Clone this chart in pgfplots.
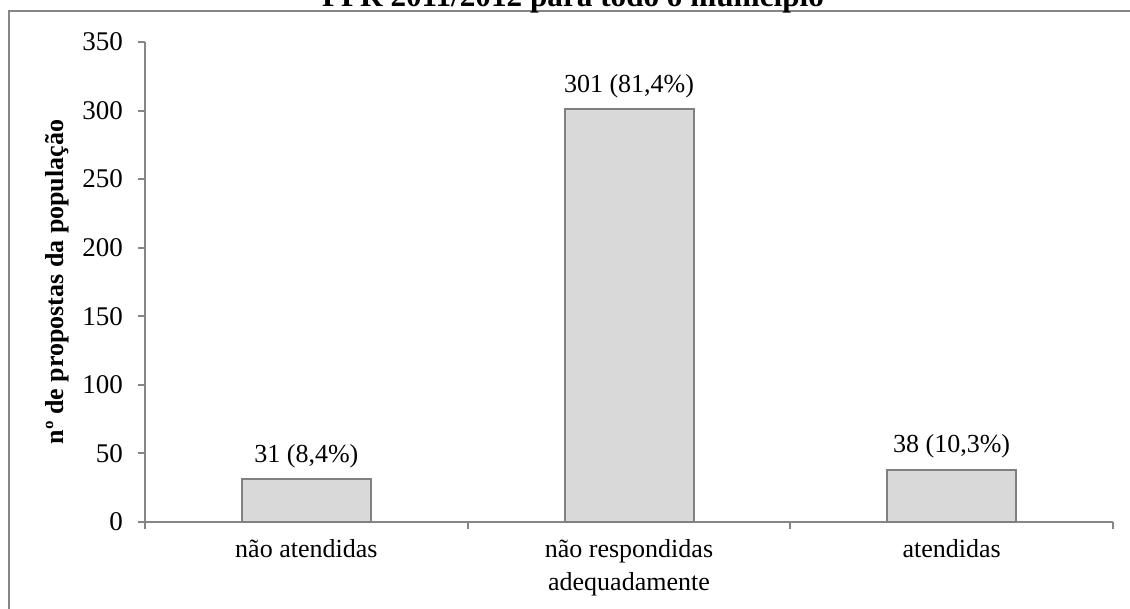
\documentclass[border=0pt]{standalone}
\usepackage{pgfplots}
\pgfplotsset{compat=1.18}
\usepackage{fontspec}
\setmainfont{Liberation Serif}
\definecolor{barfill}{HTML}{D9D9D9}
\definecolor{barline}{HTML}{808080}
\definecolor{axisgray}{HTML}{868686}
\begin{document}
\begin{tikzpicture}[x=0.5pt,y=-0.5pt]
\useasboundingbox (0,0) rectangle (1130,609);
\clip (0,0) rectangle (1130,609);
\draw[axisgray, line width=1pt] (9,1200) -- (9,11.5) -- (1300,11.5);
\node[font=\fontsize{15.6}{18}\selectfont\bfseries, anchor=base, inner sep=0pt] at (573,7) {PPR 2011/2012 para todo o município};
\begin{axis}[
  at={(72.5pt,-261pt)}, anchor=south west,
  width=484pt, height=240pt, scale only axis,
  xmin=-0.5, xmax=2.5, ymin=0, ymax=350,
  axis x line*=bottom, axis y line*=left,
  axis line style={axisgray, line width=1pt},
  tick style={axisgray, line width=1pt},
  tick align=outside, major tick length=3.5pt,
  ytick={0,50,...,350},
  xtick={-0.5,0.5,1.5,2.5}, xticklabels={},
  extra x ticks={0,1,2},
  extra x tick labels={não atendidas, {não respondidas\\adequadamente}, atendidas},
  extra x tick style={major tick length=0pt, tick style={draw=none}},
  x tick label style={align=center, font=\fontsize{13}{16.5}\selectfont, yshift=-5pt},
  y tick label style={font=\fontsize{13.5}{15}\selectfont, xshift=-4pt},
  /pgf/number format/assume math mode=true,
  ylabel={nº de propostas da população},
  ylabel style={font=\fontsize{13}{15}\selectfont\bfseries},
  ybar, bar width=64.5pt,
  nodes near coords,
  point meta=explicit symbolic,
  nodes near coords style={font=\fontsize{13}{15}\selectfont, text=black, anchor=south, yshift=2pt},
  clip=false,
]
\addplot[fill=barfill, draw=barline, line width=1pt] coordinates {
  (0,31) [31 (8,4\%)]
  (1,301) [301 (81,4\%)]
  (2,38) [38 (10,3\%)]
};
\end{axis}
\end{tikzpicture}
\end{document}
